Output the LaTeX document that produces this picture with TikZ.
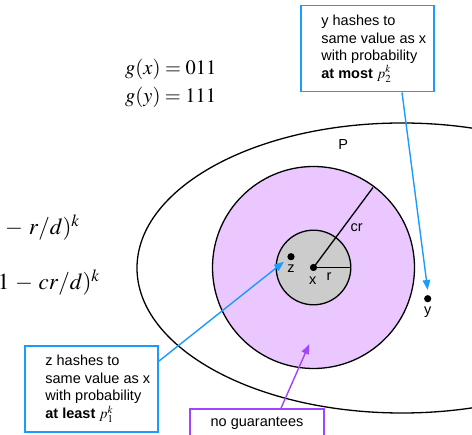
\documentclass[tikz,border=0pt]{standalone}
\usepackage{mathptmx}
\usepackage[no-math]{fontspec}
\setmainfont{Liberation Sans}
\usetikzlibrary{arrows.meta}

\begin{document}
\begin{tikzpicture}[x=1pt, y=-1pt,
    lbl/.style={font=\fontsize{14.5}{17.5}\selectfont, inner sep=0pt},
    formula/.style={font=\fontsize{20.5}{24}\selectfont, inner sep=0pt},
    bigformula/.style={font=\fontsize{23}{26}\selectfont, inner sep=0pt},
    dot/.style={circle, fill=black, inner sep=0pt, minimum size=7.2pt},
    hashbox/.style={draw=hashBlue, line width=1.6pt, minimum width=133pt, minimum height=86pt},
    hashtext/.style={lbl, align=left},
    hasharrow/.style={draw=hashBlue, line width=1.4pt, -{Triangle[length=10pt,width=7.5pt]}}]
    \definecolor{hashBlue}{HTML}{1A9BFF}
    \definecolor{guarPurple}{HTML}{A044FF}
    \definecolor{fillColourCR}{HTML}{EAC8FF}
    \definecolor{fillColourR}{HTML}{CCCCCC}

    % Canvas
    \useasboundingbox (0,0) rectangle (472,435);
    \clip (0,0) rectangle (472,435);

    % Probabilities (cut at the left edge)
    \node[bigformula, anchor=base east] (pOne) at (80,234.5) {$(1\mskip2mu-\mskip2mu r/d)^k$};
    \node[bigformula, anchor=base east] (pTwo) at (100,289.5) {$(1\mskip2mu-\mskip2mu cr/d)^k$};

    % Hash values
    \node[formula, anchor=base west] (gx) at (125,75) {$g(x) = 011$};
    \node[formula, anchor=base west] (gy) at (125,103) {$g(y) = 111$};

    % Region P
    \draw[line width=1.3pt] (402,268) ellipse [x radius=265, y radius=145];
    \node[lbl] (P) at (343.3,145) {P};

    % Balls of radius cr and r around x
    \coordinate (ctr) at (313.5,267.5);
    \filldraw[fill=fillColourCR, line width=1.3pt] (ctr) circle [radius=101];
    \filldraw[fill=fillColourR, line width=1.3pt] (ctr) circle [radius=37.3];

    % Radii
    \coordinate (crEnd) at (373,187.5);
    \coordinate (rEnd) at (350.8,267.5);
    \draw[line width=1.3pt] (ctr) -- (crEnd);
    \draw[line width=1.3pt] (ctr) -- (rEnd);
    \node[lbl] (crLabel) at (356.7,227.3) {cr};
    \node[lbl] (rLabel) at (329,276.7) {r};

    % Points
    \node[dot] (x) at (ctr) {};
    \node[dot] (z) at (291,256.7) {};
    \node[dot] (y) at (427.7,298.7) {};
    \node[lbl] (xLabel) at (312.7,280.7) {x};
    \node[lbl] (zLabel) at (291,269) {z};
    \node[lbl] (yLabel) at (427.7,311.7) {y};

    % Box for y
    \node[hashbox] (ybox) at (367.5,48.7) {};
    \node[hashtext, anchor=west] (ytext) at ([xshift=21pt]ybox.west)
        {y hashes to\\same value as x\\with probability\\\textbf{at most} $p_2^k$};
    \coordinate (yTip) at (427.7,290);
    \draw[hasharrow] ([xshift=34.5pt]ybox.south) -- (yTip);

    % Box for z
    \node[hashbox] (zbox) at (91.5,389) {};
    \node[hashtext, anchor=west] (ztext) at ([xshift=21pt]zbox.west)
        {z hashes to\\same value as x\\with probability\\\textbf{at least} $p_1^k$};
    \coordinate (zTip) at (284,261.7);
    \draw[hasharrow] ([yshift=-16pt]zbox.north east) -- (zTip);

    % Box for the ring
    \node[draw=guarPurple, line width=1.6pt, minimum width=134pt, minimum height=29pt, lbl]
        (nobox) at (257,423.5) {no guarantees};
    \coordinate (ringTip) at (309.3,344);
    \draw[draw=guarPurple, line width=1.4pt, -{Triangle[length=10pt,width=7.5pt]}]
        ([xshift=24pt]nobox.north) -- (ringTip);

\end{tikzpicture}
\end{document}
